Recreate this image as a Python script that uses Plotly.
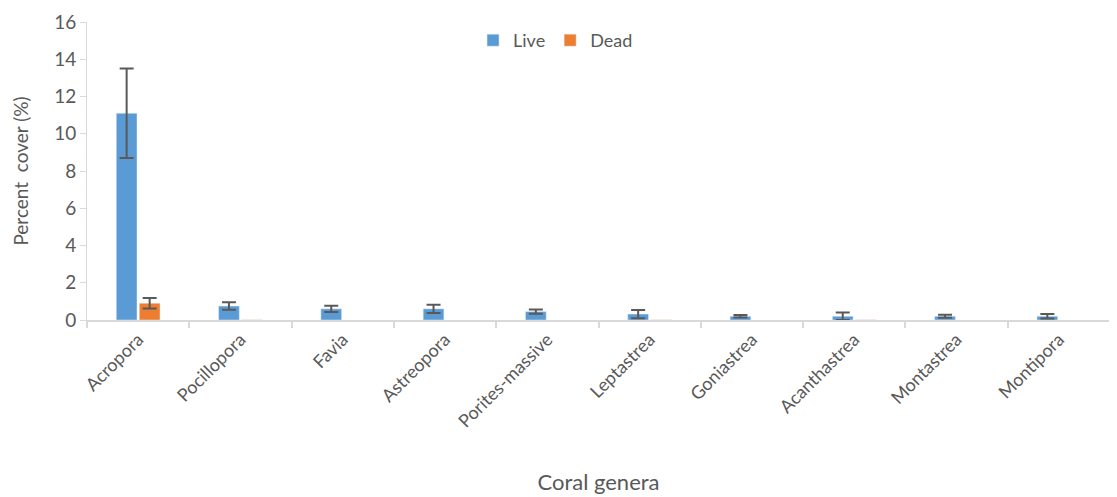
import plotly.graph_objects as go

genera = ['Acropora', 'Pocillopora', 'Favia', 'Astreopora', 'Porites-massive',
          'Leptastrea', 'Goniastrea', 'Acanthastrea', 'Montastrea', 'Montipora']
live = [11.1, 0.75, 0.6, 0.6, 0.45, 0.32, 0.2, 0.2, 0.2, 0.2]
live_err = [2.4, 0.2, 0.17, 0.22, 0.12, 0.22, 0.07, 0.2, 0.08, 0.12]
# dead cover: only Acropora has a visible bar + error bar, three others are near zero
dead_main = [0.9, None, None, None, None, None, None, None, None, None]
dead_main_err = [0.28, 0, 0, 0, 0, 0, 0, 0, 0, 0]
dead_small = [None, 0.03, None, None, None, 0.03, None, 0.03, None, None]

grey = '#595959'
font = 'Lato, Carlito, sans-serif'

fig = go.Figure()
fig.add_trace(go.Bar(x=genera, y=live, name='Live', marker_color='#5b9bd5',
                     offsetgroup='live',
                     error_y=dict(type='data', array=live_err, color=grey,
                                  thickness=2, width=7)))
fig.add_trace(go.Bar(x=genera, y=dead_main, name='Dead', marker_color='#ed7d31',
                     offsetgroup='dead',
                     error_y=dict(type='data', array=dead_main_err, color=grey,
                                  thickness=2, width=7)))
fig.add_trace(go.Bar(x=genera, y=dead_small, name='Dead', marker_color='#ed7d31',
                     offsetgroup='dead', showlegend=False, opacity=0.5))

# page body has an 8px margin, so the figure is sized to the remaining window
fig.update_layout(
    width=1109, height=489,
    margin=dict(l=79, r=7, t=14, b=177),
    plot_bgcolor='white', paper_bgcolor='white',
    barmode='group', bargap=0.55, bargroupgap=0.1,
    font=dict(family=font, color=grey, size=18),
    legend=dict(orientation='h', x=0.458, xanchor='center', y=1.0, yanchor='top',
                font=dict(size=18), itemwidth=30, tracegroupgap=0),
    xaxis=dict(title=dict(text='Coral genera', font=dict(size=22), standoff=44),
               automargin=False, tickangle=-45, tickfont=dict(size=18),
               showline=True, linecolor='#d9d9d9', linewidth=2,
               ticks='outside', tickson='boundaries', ticklen=6, tickcolor='#d9d9d9',
               tickwidth=2, showgrid=False),
    yaxis=dict(title=dict(text='Percent  cover (%)', font=dict(size=19), standoff=20),
               automargin=False, range=[0, 16], dtick=2, showline=True,
               linecolor='#d9d9d9', linewidth=1, ticks='outside', ticklen=6,
               tickcolor='#d9d9d9', showgrid=False, zeroline=False,
               tickfont=dict(size=19)),
)

fig.write_html('out.html')
